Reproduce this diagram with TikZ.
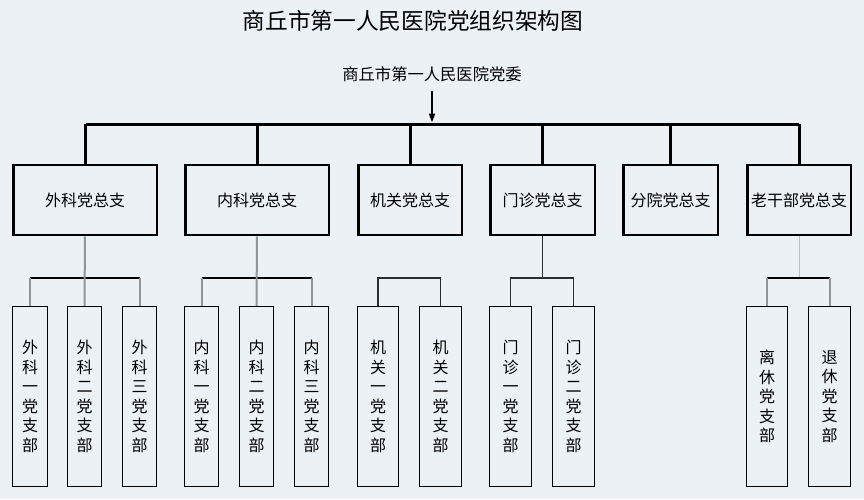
\documentclass[tikz,border=0pt]{standalone}
\usepackage{fontspec}
\newfontfamily\cjk{Noto Sans CJK SC}
\usetikzlibrary{arrows.meta}
\definecolor{bg}{HTML}{EBF1F5}
\definecolor{gline}{HTML}{8D9799}
\definecolor{lgline}{HTML}{B8C0C3}
\definecolor{dline}{HTML}{2A2E30}
\begin{document}
\begin{tikzpicture}[x=1pt,y=-1pt,
  lvtwo/.style={draw=black, line width=2.5pt, minimum height=70pt, inner sep=0pt,
    font=\cjk\fontsize{16}{16}\selectfont},
  leaf/.style={draw=black, line width=1.2pt, minimum height=180pt, inner sep=0pt,
    align=center, font=\cjk\fontsize{16}{19.5}\selectfont},
  bus/.style={line width=3pt, black},
  grayc/.style={line width=2pt, gline},
  hbar/.style={line width=1.2pt, black},
  darkc/.style={line width=1.1pt, dline},
]
\fill[bg] (0,0) rectangle (864,499);
\useasboundingbox (0,0) rectangle (864,499);

% titles
\node[font=\cjk\fontsize{22.7}{22.7}\selectfont] (title) at (413,21) {商丘市第一人民医院党组织架构图};
\node[font=\cjk\fontsize{16.3}{16.3}\selectfont, inner sep=1pt] (dw) at (432,74) {商丘市第一人民医院党委};

% bus
\coordinate (busL) at (86,124);
\coordinate (busR) at (799,124);
\coordinate (h3) at (0,278);
\draw[bus] (busL) -- (busR);
\draw[line width=2pt, -{Triangle[length=9pt,width=6pt]}, shorten <=8pt, shorten >=1.5pt]
  (dw.south) -- (dw.south |- busL);

% level two
\node[lvtwo, minimum width=143.5pt] (wk) at (85,200) {外科党总支};
\node[lvtwo, minimum width=143.5pt] (nk) at (257,200) {内科党总支};
\node[lvtwo, minimum width=103.5pt] (jg) at (410,200) {机关党总支};
\node[lvtwo, minimum width=104.5pt] (mz) at (542.5,200) {门诊党总支};
\node[lvtwo, minimum width=94.5pt] (fy) at (670.5,200) {分院党总支};
\node[lvtwo, minimum width=103.5pt] (lg) at (799,200) {老干部党总支};

\foreach \n in {wk,nk,jg,mz,fy,lg}
  \draw[bus] (\n.north) -- (\n.north |- busL);

% leaves
\node[leaf, minimum width=35pt] (wk1) at (30,396.5) {外\\科\\一\\党\\支\\部};
\node[leaf, minimum width=34pt] (wk2) at (84.5,396.5) {外\\科\\二\\党\\支\\部};
\node[leaf, minimum width=34pt] (wk3) at (139.5,396.5) {外\\科\\三\\党\\支\\部};
\node[leaf, minimum width=34pt] (nk1) at (201.5,396.5) {内\\科\\一\\党\\支\\部};
\node[leaf, minimum width=34pt] (nk2) at (256.5,396.5) {内\\科\\二\\党\\支\\部};
\node[leaf, minimum width=34pt] (nk3) at (311.5,396.5) {内\\科\\三\\党\\支\\部};
\node[leaf, minimum width=41pt] (jg1) at (378,396.5) {机\\关\\一\\党\\支\\部};
\node[leaf, minimum width=42pt] (jg2) at (440.5,396.5) {机\\关\\二\\党\\支\\部};
\node[leaf, minimum width=42pt] (mz1) at (510.5,396.5) {门\\诊\\一\\党\\支\\部};
\node[leaf, minimum width=42pt] (mz2) at (573.5,396.5) {门\\诊\\二\\党\\支\\部};
\node[leaf, minimum width=41pt] (lx) at (767,396.5) {离\\休\\党\\支\\部};
\node[leaf, minimum width=42pt] (tx) at (829.5,396.5) {退\\休\\党\\支\\部};

% 外科 connectors
\draw[hbar] (wk1.north |- h3) -- (wk3.north |- h3);
\draw[grayc] (wk.south) -- (wk2.north);
\draw[grayc] (wk1.north |- h3) -- (wk1.north);
\draw[grayc] (wk3.north |- h3) -- (wk3.north);

% 内科 connectors
\draw[hbar] (nk1.north |- h3) -- (nk3.north |- h3);
\draw[grayc] (nk.south) -- (nk2.north);
\draw[grayc] (nk1.north |- h3) -- (nk1.north);
\draw[grayc] (nk3.north |- h3) -- (nk3.north);

% 机关 bracket
\draw[darkc] (jg1.north) -- (jg1.north |- h3) -- (jg2.north |- h3) -- (jg2.north);

% 门诊 connectors
\draw[darkc] (mz.south) -- (mz.south |- h3);
\draw[darkc] (mz1.north) -- (mz1.north |- h3) -- (mz2.north |- h3) -- (mz2.north);

% 老干部 connectors
\draw[line width=1pt, lgline] (lg.south) -- (lg.south |- h3);
\draw[hbar] (lx.north |- h3) -- (tx.north |- h3);
\draw[grayc] (lx.north |- h3) -- (lx.north);
\draw[grayc] (tx.north |- h3) -- (tx.north);
\end{tikzpicture}
\end{document}
